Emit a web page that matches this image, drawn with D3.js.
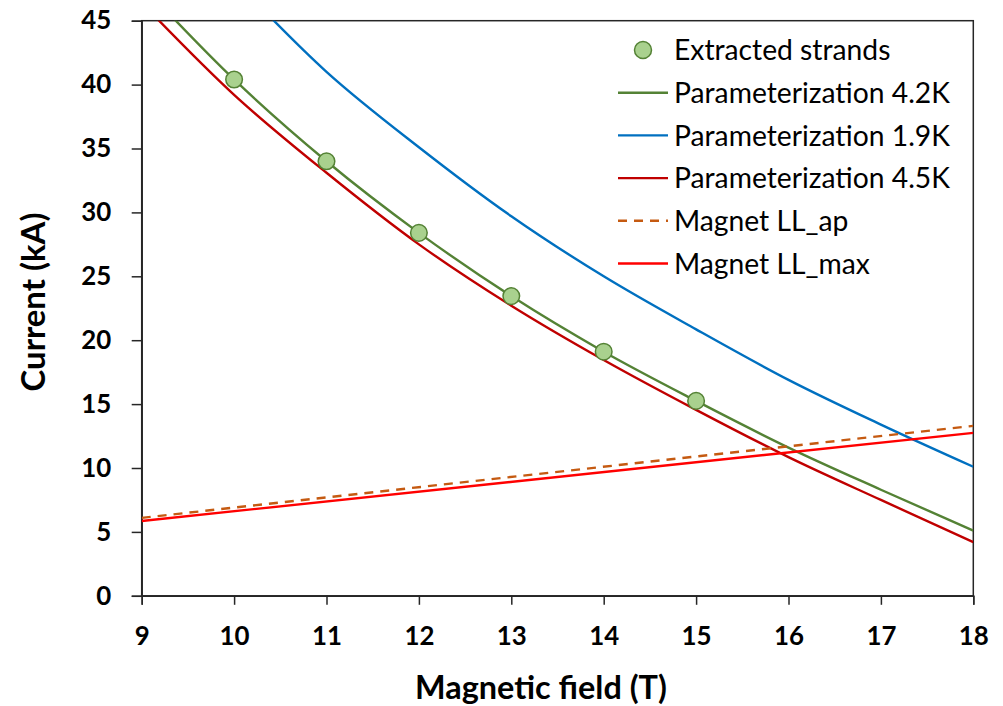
<!DOCTYPE html>
<html><head><meta charset="utf-8">
<script src="https://cdn.jsdelivr.net/npm/d3@7"></script>
<style>
body{margin:0;background:#fff}
text{font-family:Lato,"Open Sans",sans-serif}
</style>
</head><body>
<svg id="c" width="1003" height="706"></svg>
<script>
// ---- data ----
const fieldT = [9, 10, 11, 12, 13, 14, 15, 16, 17, 18];
const param42K = [47.8, 40.4, 34.0, 28.4, 23.45, 19.1, 15.25, 11.6, 8.3, 5.1];
const param45K = [46.4, 39.2, 33.1, 27.5, 22.7, 18.45, 14.55, 10.85, 7.5, 4.2];
const fieldT19 = [10, 11, 12, 13, 14, 15, 16, 17, 18];
const param19K = [48.2, 41.0, 35.1, 29.7, 25.0, 20.85, 16.9, 13.4, 10.1];
const strandField = [10, 11, 12, 13, 14, 15];
const strandCurrent = [40.4, 34.0, 28.4, 23.45, 19.1, 15.25];
const llField = [9, 18];
const llAp = [6.1, 13.3];
const llMax = [5.85, 12.75];
const xTicks = [9, 10, 11, 12, 13, 14, 15, 16, 17, 18];
const yTicks = [0, 5, 10, 15, 20, 25, 30, 35, 40, 45];
const legendLabels = ["Extracted strands", "Parameterization 4.2K", "Parameterization 1.9K",
  "Parameterization 4.5K", "Magnet LL_ap", "Magnet LL_max"];

// ---- layout ----
const L = 141.7, R = 973.3, T = 20.7, B = 595.8;
const svg = d3.select("#c");
const x = d3.scaleLinear().domain([9, 18]).range([L, R]);
const y = d3.scaleLinear().domain([0, 45]).range([B, T]);
const axisColor = "#262626";

function fit(sel, target) {
  const w = sel.node().getComputedTextLength();
  const fs = parseFloat(sel.attr("font-size"));
  sel.attr("font-size", fs * target / w);
  return fs * target / w;
}

svg.append("defs").append("clipPath").attr("id", "clip")
  .append("rect").attr("x", L).attr("y", T).attr("width", R - L).attr("height", B - T);

// frame
svg.append("rect").attr("x", L).attr("y", T).attr("width", R - L).attr("height", B - T)
  .attr("fill", "none").attr("stroke", axisColor).attr("stroke-width", 1.5);

// axes
const xAxis = svg.append("g").attr("transform", `translate(0,${B})`)
  .call(d3.axisBottom(x).tickValues(xTicks).tickSize(9).tickPadding(22).tickFormat(d3.format("d")));
const yAxis = svg.append("g").attr("transform", `translate(${L},0)`)
  .call(d3.axisLeft(y).tickValues(yTicks).tickSize(10).tickPadding(20.5).tickFormat(d3.format("d")));
[xAxis, yAxis].forEach(a => {
  a.select(".domain").attr("stroke", axisColor).attr("stroke-width", 1.5);
  a.selectAll(".tick line").attr("stroke", axisColor).attr("stroke-width", 1.5);
  a.selectAll(".tick text").attr("font-family", "Lato").attr("font-weight", "bold")
    .attr("font-size", 24).attr("fill", "#000");
});
const tickFs = fit(yAxis.selectAll(".tick text").filter(d => d === 45), 30);
xAxis.selectAll(".tick text").attr("font-size", tickFs).attr("dy", "0.71em");
yAxis.selectAll(".tick text").attr("font-size", tickFs);

// series
const line = d3.line().x(d => x(d[0])).y(d => y(d[1])).curve(d3.curveMonotoneX);
const g = svg.append("g").attr("clip-path", "url(#clip)");
const series = [
  {xs: fieldT, ys: param42K, color: "#548235", dash: null},
  {xs: fieldT19, ys: param19K, color: "#0070C0", dash: null},
  {xs: fieldT, ys: param45K, color: "#C00000", dash: null},
  {xs: llField, ys: llAp, color: "#C55A11", dash: "9,7"},
  {xs: llField, ys: llMax, color: "#FF0000", dash: null}
];
series.forEach(s => {
  g.append("path").datum(s.xs.map((v, i) => [v, s.ys[i]]))
    .attr("d", line).attr("fill", "none").attr("stroke", s.color)
    .attr("stroke-width", 2.4).attr("stroke-dasharray", s.dash);
});
svg.append("g").selectAll("circle").data(strandField.map((v, i) => [v, strandCurrent[i]]))
  .join("circle").attr("cx", d => x(d[0])).attr("cy", d => y(d[1])).attr("r", 8.3)
  .attr("fill", "#A9D18E").attr("stroke", "#548235").attr("stroke-width", 1.5);

// legend
const lg = svg.append("g");
const rowY = i => 50 + i * 42.7;
lg.append("circle").attr("cx", 643).attr("cy", rowY(0)).attr("r", 8.5)
  .attr("fill", "#A9D18E").attr("stroke", "#548235").attr("stroke-width", 1.5);
series.forEach((s, i) => {
  lg.append("line").attr("x1", 618).attr("x2", 668).attr("y1", rowY(i + 1)).attr("y2", rowY(i + 1))
    .attr("stroke", s.color).attr("stroke-width", 2.4).attr("stroke-dasharray", s.dash);
});
legendLabels.forEach((t, i) => {
  const tx = lg.append("text").attr("x", 674).attr("y", rowY(i)).attr("dy", "0.36em")
    .attr("font-size", 24).attr("fill", "#000").text(t);
  if (i === 1) fit(tx, 276);
});
const lfs = lg.selectAll("text").filter((d, i) => i === 1).attr("font-size");
lg.selectAll("text").attr("font-size", lfs);

// titles
const xt = svg.append("text").attr("x", 541).attr("y", 699).attr("text-anchor", "middle")
  .attr("font-weight", "bold").attr("font-size", 26).text("Magnetic field (T)");
fit(xt, 252);
const yt = svg.append("text").attr("transform", "translate(45,302) rotate(-90)")
  .attr("text-anchor", "middle").attr("font-weight", "bold").attr("font-size", 26).text("Current (kA)");
fit(yt, 179);
</script>
</body></html>
